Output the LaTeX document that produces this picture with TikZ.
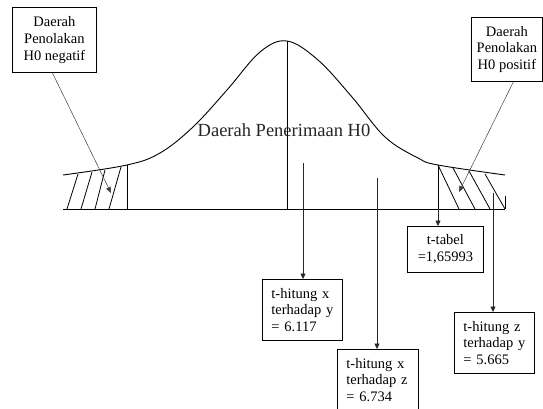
\documentclass[tikz,border=0pt]{standalone}
\usepackage{fontspec}
\setmainfont{Liberation Serif}
\usetikzlibrary{arrows.meta,positioning}

\begin{document}
\begin{tikzpicture}[
    x=1pt, y=-1pt,
    box/.style={draw, line width=0.8pt, inner sep=0pt, align=center, font=\fontsize{14.5}{16.8}\selectfont},
    leftbox/.style={box, align=left, inner xsep=9pt, anchor=north west},
    curve/.style={line width=0.9pt},
    hatch/.style={line width=0.8pt},
    arrow/.style={-{Triangle[length=5.5pt, width=5pt]}, line width=0.6pt, color=black!85},
    pointer/.style={-{Triangle[length=6pt, width=5pt]}, line width=0.5pt, color=black!75}
]
    \useasboundingbox (0,0) rectangle (543,408);

    % Baseline and curve
    \draw[curve] (63,209) -- (505,209);
    \draw[curve] plot[smooth, tension=0.6] coordinates {
        (63,175) (127,165) (160,153) (193,127) (227,90) (260,52) (287,41)
        (318,60) (352,97) (385,137) (418,158) (438,165) (505,175)};

    % Region borders
    \draw[curve] (127,165) -- (127,209);
    \draw[curve] (287,41) -- (287,209);
    \draw[curve] (438,165) -- (438,209);

    % Hatching left
    \draw[hatch] (67,209) -- (78,174);
    \draw[hatch] (81,209) -- (92,172);
    \draw[hatch] (95,209) -- (105,170);
    \draw[hatch] (109,209) -- (121,167);

    % Hatching right
    \draw[hatch] (438,165) -- (459,209);
    \draw[hatch] (453,168) -- (475,209);
    \draw[hatch] (469,171) -- (490,209);
    \draw[hatch] (485,174) -- (505,209);
    \draw[line width=0.5pt] (505,196) -- (505,209);

    % Acceptance label
    \node[font=\fontsize{18.5}{20}\selectfont, inner sep=0pt, text=black!85] (terima) at (284,130) {Daerah Penerimaan H0};

    % Rejection boxes
    \node[box, minimum width=84pt, minimum height=65pt, anchor=north west] (tolakneg) at (12,7) {Daerah\\Penolakan\\H0 negatif};
    \node[box, minimum width=71pt, minimum height=64pt, anchor=north west] (tolakpos) at (471,17) {Daerah\\Penolakan\\H0 positif};

    % Value boxes
    \node[box, minimum width=76pt, minimum height=46pt, anchor=north west] (ttabel) at (407,226) {t-tabel\\=1,65993};
    \node[leftbox, text width=62pt, minimum height=61pt] (hitxy) at (262,279) {t-hitung x\\terhadap y\\= 6.117};
    \node[leftbox, text width=63pt, minimum height=61pt] (hitxz) at (337,349) {t-hitung x\\terhadap z\\= 6.734};
    \node[leftbox, text width=62pt, minimum height=61pt] (hitzy) at (454,312) {t-hitung z\\terhadap y\\= 5.665};

    % Arrow ends
    \coordinate (ujungneg) at (111,193);
    \coordinate (ujungpos) at (459,192);
    \coordinate (xyatas) at (303,163);
    \coordinate (xzatas) at (377,178);
    \coordinate (tabatas) at (438,209);
    \coordinate (zyatas) at (493,193);

    % Arrows
    \draw[pointer] ([xshift=-2pt]tolakneg.south) -- (ujungneg);
    \draw[pointer] ([xshift=6.5pt]tolakpos.south) -- (ujungpos);
    \draw[arrow] (xyatas) -- (xyatas |- hitxy.north);
    \draw[arrow] (xzatas) -- (xzatas |- hitxz.north);
    \draw[arrow] (tabatas) -- (tabatas |- ttabel.north);
    \draw[arrow] (zyatas) -- (zyatas |- hitzy.north);
\end{tikzpicture}
\end{document}
